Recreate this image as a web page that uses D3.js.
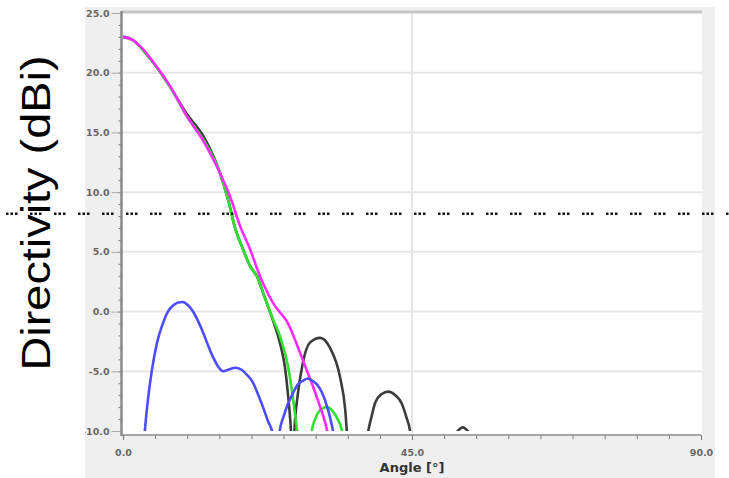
<!DOCTYPE html>
<html>
<head>
<meta charset="utf-8">
<script src="https://cdn.jsdelivr.net/npm/d3@7"></script>
<style>
  body { margin: 0; background: #fff; }
</style>
</head>
<body>
<script>
var svg_width  = 729;
var svg_height = 478;

//DATA: [angle in degrees, directivity in dBi]
//values below -10 only send the curve out through the bottom of the plot
var blackCurve = [[0,23.0],[1.5,22.75],[2.7,22.15],[4.7,20.85],[7.3,18.85],[10,16.5],[12.5,14.7],
    [15.1,11.6],[16.4,9.3],[17.4,7.1],[18.7,5.2],[19.8,3.8],[20.9,2.9],[21.8,1.6],[22.4,0.7],
    [23.2,-0.5],[24.0,-1.8],[24.7,-3.2],[25.2,-4.6],[25.7,-7.0],[26.1,-9.5],[26.4,-12.5],
    [26.8,-9.0],[27.3,-6.6],[28.0,-4.3],[29.1,-2.6],[30.7,-2.2],[32.2,-3.0],[33.8,-5.5],
    [34.6,-8.2],[35.2,-13],[36.5,-20],[37.6,-13],[38.2,-10],[38.7,-8.8],[39.3,-7.6],[40.3,-6.9],
    [41.3,-6.7],[42.4,-7.0],[43.4,-7.7],[44.1,-8.8],[44.7,-10],[45.3,-13],[48,-20],
    [51.3,-11.5],[51.9,-10.2],[52.4,-9.85],[52.9,-9.7],[53.4,-9.85],[53.9,-10.2],[54.5,-11.5],[57,-20]];

var greenCurve = [[0,23.0],[1.5,22.75],[2.7,22.15],[4.7,20.85],[7.3,18.85],[10,16.3],[12.5,14.4],
    [15.1,11.6],[16.4,9.3],[17.4,7.1],[18.7,5.2],[19.8,3.8],[20.9,2.9],[21.8,1.6],[22.4,0.7],
    [23.4,-0.7],[24.4,-2.0],[25.7,-4.6],[26.5,-7.4],[27.1,-10],[27.6,-13],[28.4,-16],
    [29.0,-12],[29.4,-10],[30.0,-8.9],[30.8,-8.2],[31.7,-8.0],[32.6,-8.3],[33.4,-9.0],
    [34.1,-10],[34.6,-13],[36,-18]];

var magentaCurve = [[0,23.0],[1.5,22.75],[2.7,22.2],[4.7,20.9],[7.3,18.9],[10,16.3],[12.5,14.3],
    [15.1,11.6],[16.9,9.3],[18.2,7.2],[19.8,5.2],[21.3,3.0],[22.4,1.7],[23.5,0.6],[24.5,-0.1],
    [25.5,-0.8],[26.6,-2.1],[27.6,-3.5],[28.6,-4.9],[29.6,-6.3],[30.7,-8.0],[31.8,-10],
    [32.4,-12],[33,-15]];

var blueCurve = [[2.9,-14],[3.4,-10],[3.9,-7.3],[4.5,-4.9],[5.3,-2.6],[6.2,-1.0],[7.0,0.0],
    [7.8,0.5],[8.6,0.75],[9.3,0.8],[10.1,0.55],[10.9,0.0],[11.7,-0.8],[12.5,-1.8],[13.3,-2.9],
    [14.1,-3.9],[14.8,-4.6],[15.6,-5.0],[16.5,-4.85],[17.5,-4.7],[18.4,-4.85],[19.3,-5.3],
    [20.2,-5.9],[21.0,-6.9],[21.8,-8.0],[22.6,-9.2],[23.2,-10],[23.8,-12],[24.0,-13],
    [24.2,-12],[24.4,-10],[25.0,-8.8],[25.7,-7.7],[26.5,-6.8],[27.2,-6.1],[28.0,-5.8],
    [28.8,-5.6],[29.5,-5.8],[30.2,-6.1],[31.0,-6.8],[31.8,-8.0],[32.3,-9.0],[32.7,-10],
    [33.2,-12],[34,-15]];

var series = [
    {name: "black",   color: "#3c3c3c", points: blackCurve},
    {name: "green",   color: "#2fe02f", points: greenCurve},
    {name: "magenta", color: "#ff2bff", points: magentaCurve},
    {name: "blue",    color: "#4d4dff", points: blueCurve}
];

var xTicks = [0, 45, 90];
var yTicks = [-10, -5, 0, 5, 10, 15, 20, 25];
var thresholdDb = 8.2;   //the dotted line across the whole picture

var svg = d3.select('body').append('svg')
            .attr('width', svg_width)
            .attr('height', svg_height)
            .style('display', 'block');

var x = d3.scaleLinear().domain([0, 90]).range([123, 701]);
var y = d3.scaleLinear().domain([-10, 25]).range([431, 13]);

//grey panel of the plotting program
svg.append("rect")
   .attr("x", 85).attr("y", 7)
   .attr("width", 630).attr("height", svg_height - 7)
   .attr("fill", "#efefef");

//labels are cut at the panel edge (the minus of -10.0 is lost in the picture)
svg.append("clipPath").attr("id", "panelclip")
   .append("rect")
   .attr("x", 85).attr("y", 7)
   .attr("width", 630).attr("height", svg_height - 7);

//white plot area
svg.append("rect")
   .attr("x", 122).attr("y", 11)
   .attr("width", 580).attr("height", 424)
   .attr("fill", "#ffffff");

//grid
svg.append("g").selectAll("line")
   .data(yTicks.filter(d => d > -10 && d < 25))
   .enter().append("line")
   .attr("x1", 122).attr("x2", 702)
   .attr("y1", d => y(d)).attr("y2", d => y(d))
   .attr("stroke", "#e6e6e6").attr("stroke-width", 2);

svg.append("line")
   .attr("x1", x(45)).attr("x2", x(45))
   .attr("y1", 11).attr("y2", 435)
   .attr("stroke", "#e6e6e6").attr("stroke-width", 2);

//top frame line
svg.append("line")
   .attr("x1", 122).attr("x2", 702)
   .attr("y1", 12).attr("y2", 12)
   .attr("stroke", "#c6c6c6").attr("stroke-width", 3);

//curves, clipped at the plot edges
svg.append("clipPath").attr("id", "plotclip")
   .append("rect")
   .attr("x", x(0)).attr("y", y(25))
   .attr("width", x(90) - x(0)).attr("height", y(-10) - y(25));

var line = d3.line()
    .x(d => x(d[0]))
    .y(d => y(d[1]))
    .curve(d3.curveMonotoneX);

svg.append("g")
   .attr("clip-path", "url(#plotclip)")
   .selectAll("path")
   .data(series)
   .enter().append("path")
   .attr("d", d => line(d.points))
   .attr("fill", "none")
   .attr("stroke", d => d.color)
   .attr("stroke-width", 2.6)
   .attr("stroke-linejoin", "round");

//axes
var fmt = d => d.toFixed(1);

var axes = svg.append("g").attr("clip-path", "url(#panelclip)");

var yMinor = axes.append("g")
    .attr("transform", "translate(121.5,0)")
    .call(d3.axisLeft(y).tickValues(d3.range(-10, 26, 1)).tickSize(3).tickFormat(""));

var yAxis = axes.append("g")
    .attr("transform", "translate(121.5,0)")
    .call(d3.axisLeft(y).tickValues(yTicks).tickSize(10).tickPadding(2).tickFormat(fmt));

var xMinor = axes.append("g")
    .attr("transform", "translate(0,435)")
    .call(d3.axisBottom(x).tickValues(d3.range(0, 91, 5)).tickSize(4).tickFormat(""));

var xAxis = axes.append("g")
    .attr("transform", "translate(0,435)")
    .call(d3.axisBottom(x).tickValues(xTicks).tickSize(5).tickPadding(9).tickFormat(fmt));

[yMinor, yAxis, xMinor, xAxis].forEach(function(g) {
    g.select(".domain").remove();
    g.selectAll(".tick line").attr("stroke", "#777");
});
yAxis.selectAll(".tick line").attr("stroke", "#aaa").attr("stroke-width", 1);

svg.selectAll(".tick text")
   .attr("fill", "#666")
   .style("font-family", "DejaVu Sans")
   .style("font-weight", "bold")
   .style("font-size", "9.5px");

//axis lines
svg.append("line")
   .attr("x1", 121.5).attr("x2", 121.5)
   .attr("y1", 11).attr("y2", 436)
   .attr("stroke", "#8a8a8a").attr("stroke-width", 2.5);

svg.append("line")
   .attr("x1", 121).attr("x2", x(90))
   .attr("y1", 435).attr("y2", 435)
   .attr("stroke", "#8a8a8a").attr("stroke-width", 1.5);

svg.append("text")
   .attr("x", x(45)).attr("y", 472)
   .attr("text-anchor", "middle")
   .attr("fill", "#333")
   .style("font-family", "DejaVu Sans")
   .style("font-weight", "bold")
   .style("font-size", "13px")
   .text("Angle [°]");

//big slide label on the left
svg.append("text")
   .attr("transform", "translate(50,213) rotate(-90)")
   .attr("text-anchor", "middle")
   .attr("textLength", 315)
   .attr("lengthAdjust", "spacingAndGlyphs")
   .attr("fill", "#000")
   .style("font-family", "Liberation Sans, Arial, sans-serif")
   .style("font-size", "40px")
   .text("Directivity (dBi)");

//dotted threshold line over everything
svg.append("line")
   .attr("x1", 0).attr("x2", svg_width)
   .attr("y1", y(thresholdDb)).attr("y2", y(thresholdDb))
   .attr("stroke", "#111")
   .attr("stroke-width", 2.5)
   .attr("stroke-dasharray", "2.5,2,2.5,2,2.5,12.5")
   .attr("stroke-dashoffset", 18);
</script>
</body>
</html>
